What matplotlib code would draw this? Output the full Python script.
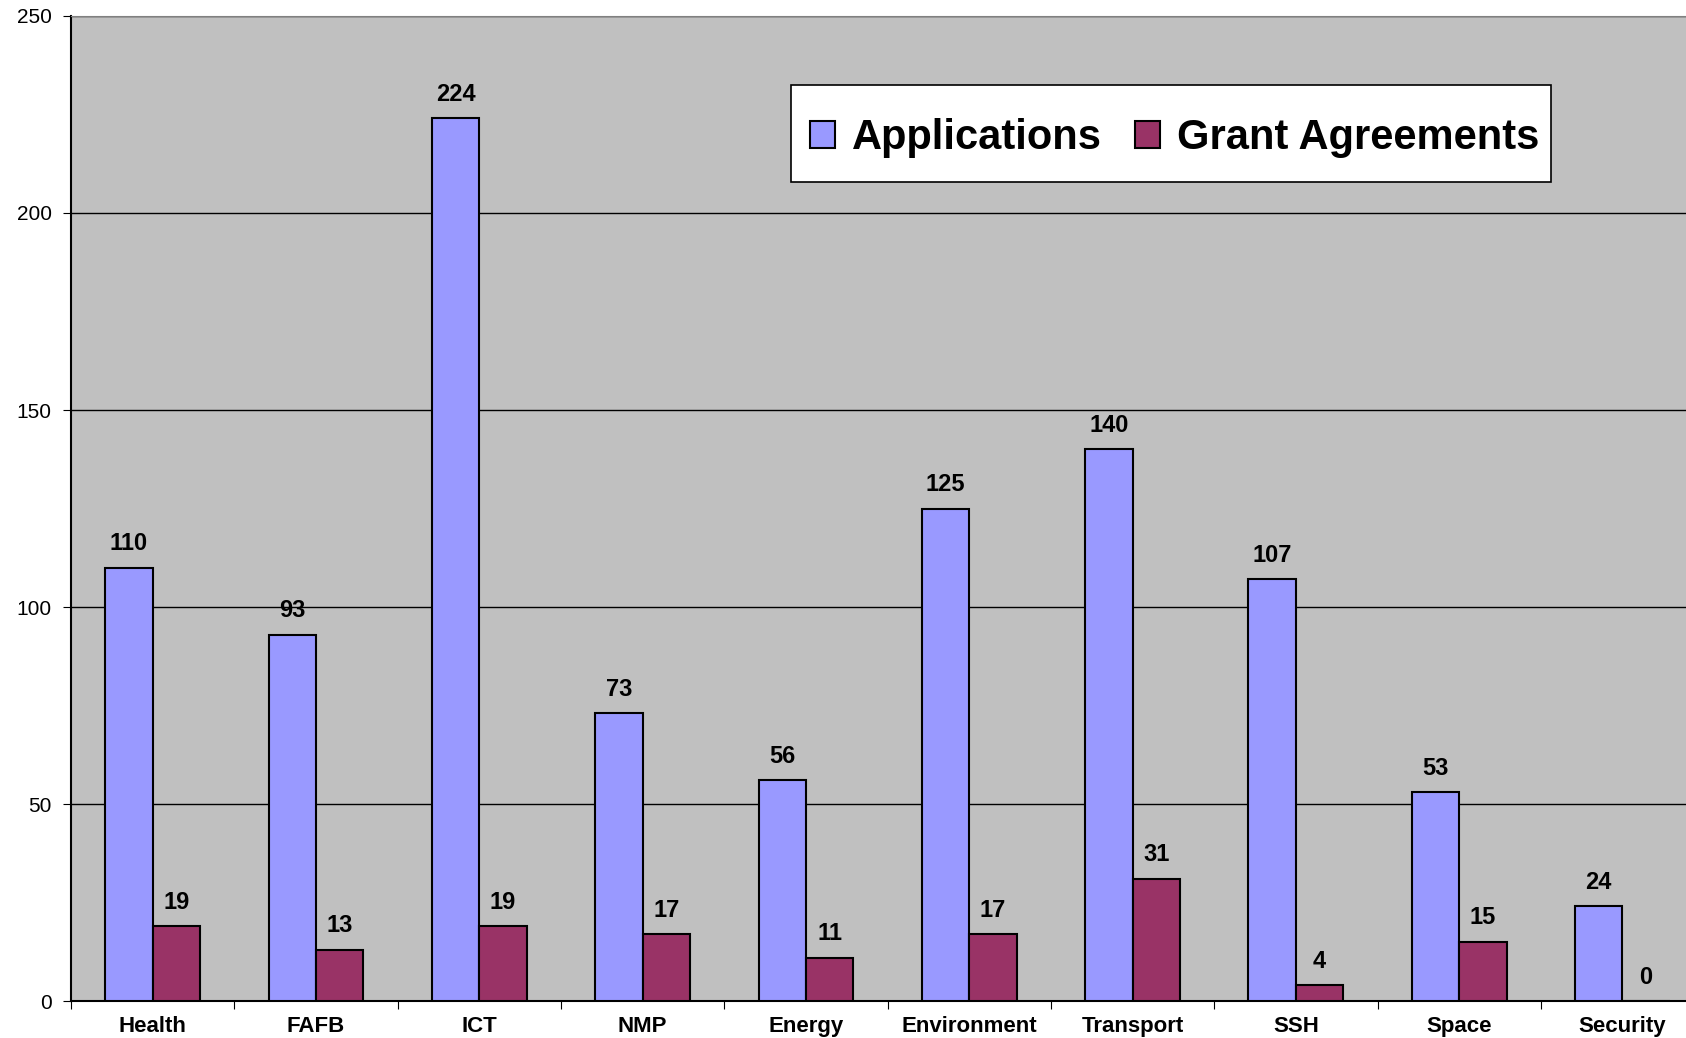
import numpy as np
import matplotlib.pyplot as plt
from matplotlib.patches import Rectangle

# ==========================================================
# DATA
# ==========================================================

themes = ['Health', 'FAFB', 'ICT', 'NMP', 'Energy',
          'Environment', 'Transport', 'SSH', 'Space', 'Security']

applications = [110, 93, 224, 73, 56, 125, 140, 107, 53, 24]
grant_agreements = [19, 13, 19, 17, 11, 17, 31, 4, 15, 0]

y_ticks = [0, 50, 100, 150, 200, 250]

# ==========================================================
# STYLE
# ==========================================================

plt.rcParams['font.family'] = ['Liberation Sans', 'DejaVu Sans']

app_color = '#9999FF'
grant_color = '#993366'
plot_bg = '#C0C0C0'

bar_w = 0.29

# ==========================================================
# FIGURE
# ==========================================================

fig = plt.figure(figsize=(16.86, 10.38), dpi=100)
ax = fig.add_axes([0.0421, 0.0356, 0.958, 0.949])
ax.set_facecolor(plot_bg)

x = np.arange(len(themes))

bars_app = ax.bar(
    x - bar_w / 2, applications, bar_w,
    color=app_color, edgecolor='black', linewidth=1.5,
    label='Applications', zorder=3
)
bars_grant = ax.bar(
    x + bar_w / 2, grant_agreements, bar_w,
    color=grant_color, edgecolor='black', linewidth=1.5,
    label='Grant Agreements', zorder=3
)

# value labels
for bars, vals in [(bars_app, applications), (bars_grant, grant_agreements)]:
    for b, v in zip(bars, vals):
        ax.annotate(
            str(v),
            (b.get_x() + b.get_width() / 2, v),
            xytext=(0, 9), textcoords='offset points',
            ha='center', va='bottom',
            fontsize=17, fontweight='bold', zorder=4
        )

# ==========================================================
# AXES
# ==========================================================

ax.set_yticks(y_ticks)
ax.set_yticklabels([str(t) for t in y_ticks], fontsize=15)
ax.yaxis.grid(True, color='black', linewidth=1)
ax.set_axisbelow(True)

ax.set_xticks(np.arange(len(themes) + 1) - 0.5)
ax.set_xticklabels([])
ax.set_xticks(x, minor=True)
ax.set_xticklabels(themes, minor=True, fontsize=16, fontweight='bold')
ax.tick_params(axis='x', which='minor', length=0, pad=11)
ax.tick_params(axis='x', which='major', length=6, direction='out')
ax.tick_params(axis='y', length=6, direction='out', pad=8)

# limits set after the ticks, so the ticks don't widen them
ax.set_ylim(0, 250)
ax.set_xlim(-0.5, 9.39)

ax.spines['top'].set_color('#808080')
ax.spines['right'].set_visible(False)
ax.spines['left'].set_color('black')
ax.spines['bottom'].set_color('black')
ax.spines['left'].set_linewidth(1.5)
ax.spines['bottom'].set_linewidth(1.5)

# legend box drawn separately so its padding matches the original
box = Rectangle(
    (0.4458, 0.8315), 0.4706, 0.0985,
    transform=ax.transAxes, facecolor='white',
    edgecolor='black', linewidth=1.2, zorder=5
)
ax.add_patch(box)

leg = ax.legend(
    loc='center', bbox_to_anchor=(0.6835, 0.876),
    ncol=2, prop={'weight': 'bold', 'size': 30},
    handlelength=0.6, handleheight=0.6, handletextpad=0.4,
    columnspacing=0.8, frameon=False
)
leg.set_zorder(6)

plt.savefig('out.png', dpi=100)
